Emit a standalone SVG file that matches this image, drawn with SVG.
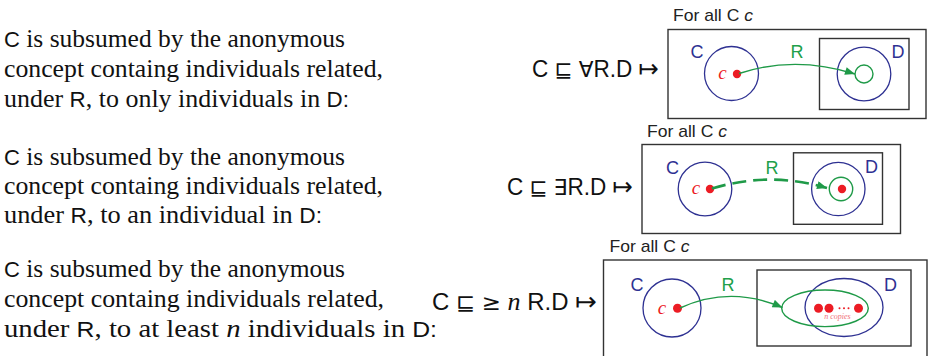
<svg xmlns="http://www.w3.org/2000/svg" width="929" height="356" viewBox="0 0 929 356">
<style>
.t{font-family:"Liberation Serif",serif;font-size:25.5px;fill:#111}
.sf{font-family:"Liberation Sans",sans-serif;font-size:22px}
.mi{font-family:"Liberation Serif",serif;font-style:italic}
.f{font-family:"Liberation Sans",sans-serif;font-size:23px;fill:#111}
.sym{font-family:"DejaVu Sans",sans-serif;font-size:22px}
.map{font-family:"DejaVu Sans",sans-serif;font-size:25px}
.hd{font-family:"Liberation Sans",sans-serif;font-size:17px;fill:#222}
.box{fill:none;stroke:#333;stroke-width:1.4}
.bc{fill:none;stroke:#2e3192;stroke-width:1.3}
.gc{fill:none;stroke:#1f9a48;stroke-width:1.4}
.dot{fill:#ec1c24}
.lb{font-family:"Liberation Sans",sans-serif;font-size:18px;fill:#2e3192}
.lr{font-family:"Liberation Sans",sans-serif;font-size:18px;fill:#21a04a}
.lc{font-family:"Liberation Serif",serif;font-style:italic;font-size:19px;fill:#ec1c24}
.arr{fill:none;stroke:#1f9a48;stroke-width:1.4}
.arrd{fill:none;stroke:#1f9a48;stroke-width:2.6;stroke-dasharray:14 7}
</style>
<defs>
<marker id="ah" viewBox="0 0 10 8" refX="10" refY="4" markerUnits="userSpaceOnUse" markerWidth="11" markerHeight="8" orient="auto">
<path d="M0,0 L10,4 L0,8 z" fill="#1f9a48"/>
</marker>
</defs>

<!-- left descriptions -->
<g id="desc1">
<text class="t" x="4" y="47" textLength="341" lengthAdjust="spacingAndGlyphs"><tspan class="sf">C</tspan> is subsumed by the anonymous</text>
<text class="t" x="4" y="77" textLength="379" lengthAdjust="spacingAndGlyphs">concept containg individuals related,</text>
<text class="t" x="4" y="107" textLength="345" lengthAdjust="spacingAndGlyphs">under <tspan class="sf">R</tspan>, to only individuals in <tspan class="sf">D:</tspan></text>
</g>
<g id="desc2">
<text class="t" x="4" y="165" textLength="341" lengthAdjust="spacingAndGlyphs"><tspan class="sf">C</tspan> is subsumed by the anonymous</text>
<text class="t" x="4" y="194" textLength="379" lengthAdjust="spacingAndGlyphs">concept containg individuals related,</text>
<text class="t" x="4" y="223" textLength="318" lengthAdjust="spacingAndGlyphs">under <tspan class="sf">R</tspan>, to an individual in <tspan class="sf">D:</tspan></text>
</g>
<g id="desc3">
<text class="t" x="4" y="277" textLength="341" lengthAdjust="spacingAndGlyphs"><tspan class="sf">C</tspan> is subsumed by the anonymous</text>
<text class="t" x="4" y="307" textLength="380" lengthAdjust="spacingAndGlyphs">concept containg individuals related,</text>
<text class="t" x="4" y="337" textLength="433" lengthAdjust="spacingAndGlyphs">under <tspan class="sf">R</tspan>, to at least <tspan class="mi">n</tspan> individuals in <tspan class="sf">D:</tspan></text>
</g>

<!-- formulas -->
<g id="formula1">
<text class="f" x="532" y="77" textLength="127" lengthAdjust="spacingAndGlyphs">C <tspan class="sym">⊑</tspan> <tspan class="sym">∀</tspan>R.D <tspan class="map">↦</tspan></text>
</g>
<g id="formula2">
<text class="f" x="507" y="195" textLength="126" lengthAdjust="spacingAndGlyphs">C <tspan class="sym">⊑</tspan> <tspan class="sym">∃</tspan>R.D <tspan class="map">↦</tspan></text>
</g>
<g id="formula3">
<text class="f" x="432" y="310" textLength="165" lengthAdjust="spacingAndGlyphs">C <tspan class="sym">⊑</tspan> <tspan class="sym">≥</tspan> <tspan class="mi" font-size="25">n</tspan> R.D <tspan class="map">↦</tspan></text>
</g>

<!-- panel 1 -->
<g id="panel1">
<text class="hd" x="673" y="21" textLength="80" lengthAdjust="spacingAndGlyphs">For all C <tspan font-style="italic">c</tspan></text>
<rect class="box" x="668" y="29.5" width="258" height="89"/>
<rect class="box" x="819.5" y="38.5" width="89.5" height="71"/>
</g>
<g id="p1-C">
<circle class="bc" cx="731.5" cy="73.5" r="27"/>
<text class="lb" x="697" y="57.5" text-anchor="middle">C</text>
<circle class="dot" cx="737" cy="74" r="4.2"/>
<text class="lc" x="722.5" y="79" text-anchor="middle">c</text>
</g>
<g id="p1-D">
<circle class="bc" cx="864" cy="74" r="26.8"/>
<text class="lb" x="898" y="57.5" text-anchor="middle">D</text>
<circle class="gc" cx="864" cy="74" r="9"/>
</g>

<!-- panel 2 -->
<g id="panel2">
<text class="hd" x="647" y="136.5" textLength="80" lengthAdjust="spacingAndGlyphs">For all C <tspan font-style="italic">c</tspan></text>
<rect class="box" x="642" y="144.5" width="258.5" height="89"/>
<rect class="box" x="793.5" y="152.8" width="89" height="71.5"/>
</g>
<g id="p2-C">
<circle class="bc" cx="705" cy="189" r="26.8"/>
<text class="lb" x="672.5" y="173.5" text-anchor="middle">C</text>
<circle class="dot" cx="710" cy="189" r="4.2"/>
<text class="lc" x="696" y="194" text-anchor="middle">c</text>
</g>
<g id="p2-D">
<circle class="bc" cx="838.3" cy="189" r="26.7"/>
<text class="lb" x="871.5" y="173" text-anchor="middle">D</text>
<circle class="gc" cx="841" cy="189" r="11.7"/>
<circle class="dot" cx="842" cy="189" r="4.2"/>
</g>

<!-- panel 3 -->
<g id="panel3">
<text class="hd" x="609.5" y="251.5" textLength="80" lengthAdjust="spacingAndGlyphs">For all C <tspan font-style="italic">c</tspan></text>
<rect class="box" x="603.5" y="260" width="323.5" height="110"/>
<rect class="box" x="757" y="270" width="154" height="76"/>
</g>
<g id="p3-C">
<circle class="bc" cx="672" cy="308" r="29"/>
<text class="lb" x="637" y="290.5" text-anchor="middle">C</text>
<circle class="dot" cx="677.5" cy="308.3" r="4.5"/>
<text class="lc" x="662" y="313.5" text-anchor="middle">c</text>
</g>
<g id="p3-D">
<ellipse class="bc" cx="844" cy="307.5" rx="39" ry="29"/>
<text class="lb" x="890.5" y="290.5" text-anchor="middle">D</text>
<ellipse class="gc" cx="825" cy="308.3" rx="43.3" ry="18.3"/>
<circle class="dot" cx="818.5" cy="308.3" r="4.5"/>
<circle class="dot" cx="829" cy="308.3" r="4.5"/>
<circle class="dot" cx="839.5" cy="308.3" r="1"/>
<circle class="dot" cx="844" cy="308.3" r="1"/>
<circle class="dot" cx="848.5" cy="308.3" r="1"/>
<circle class="dot" cx="858.5" cy="308.3" r="4.5"/>
<text x="837.5" y="319" text-anchor="middle" font-family="Liberation Serif, serif" font-style="italic" font-size="8" fill="#f07078">n copies</text>
</g>

<!-- connectors -->
<g id="connectors">
<path class="arr" d="M739,73.5 Q795,55 855,74" marker-end="url(#ah)"/>
<text class="lr" x="797" y="57.5" text-anchor="middle">R</text>
<path class="arrd" d="M712,188.5 Q770,171 827,188" marker-end="url(#ah)"/>
<text class="lr" x="772" y="173.5" text-anchor="middle">R</text>
<path class="arr" d="M680,308 Q730,285 782.5,307.5" marker-end="url(#ah)"/>
<text class="lr" x="728" y="290.5" text-anchor="middle">R</text>
</g>
</svg>
